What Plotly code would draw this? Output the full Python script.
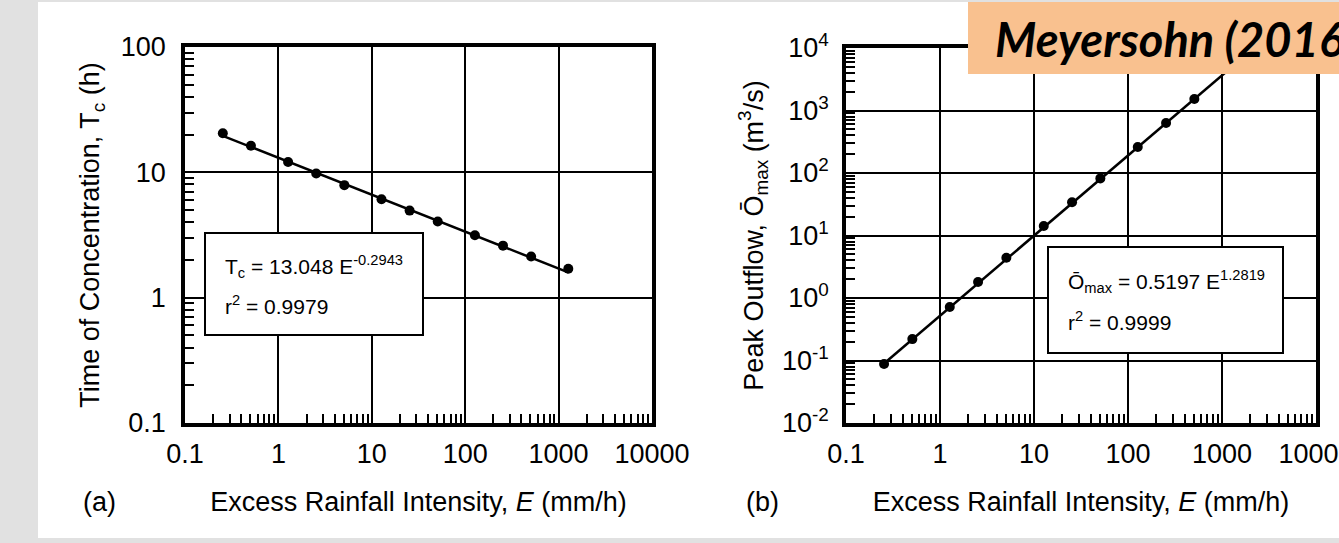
import plotly.graph_objects as go

# ---------------- data ----------------
E_a = [0.254, 0.508, 1.27, 2.54, 5.08, 12.7, 25.4, 50.8, 127, 254, 508, 1270]
Tc = [20.5, 16.3, 12.1, 9.8, 7.9, 6.1, 4.95, 4.05, 3.15, 2.6, 2.13, 1.7]

E_b = [0.254, 0.508, 1.27, 2.54, 5.08, 12.7, 25.4, 50.8, 127, 254, 508]
Omax = [0.088, 0.22, 0.72, 1.8, 4.4, 14.2, 34, 82, 260, 630, 1530]

fit_a = (13.048, -0.2943)   # Tc = a E^b
fit_b = (0.5197, 1.2819)    # Omax = a E^b
fit_b_end = 3000            # fit line drawn up to top of panel (clipped)

x_tickvals = [0.1, 1, 10, 100, 1000, 10000]
x_ticktext = ["0.1", "1", "10", "100", "1000", "10000"]
ya_tickvals = [0.1, 1, 10, 100]
ya_ticktext = ["0.1", "1", "10", "100"]
yb_tickvals = [0.01, 0.1, 1, 10, 100, 1000, 10000]
yb_ticktext = ["10<sup>-2</sup>", "10<sup>-1</sup>", "10<sup>0</sup>", "10<sup>1</sup>",
               "10<sup>2</sup>", "10<sup>3</sup>", "10<sup>4</sup>"]

# ---------------- layout helpers ----------------
W, H = 1339, 543
FONT = "Liberation Sans, Arial, sans-serif"


def px(p):
    return p / W


def py(p):
    return 1 - p / H


fig = go.Figure()

# fit lines
fa_x = [E_a[0], E_a[-1]]
fa_y = [fit_a[0] * e ** fit_a[1] for e in fa_x]
fb_x = [E_b[0], fit_b_end]
fb_y = [fit_b[0] * e ** fit_b[1] for e in fb_x]

fig.add_trace(go.Scatter(x=fa_x, y=fa_y, mode="lines", line=dict(color="black", width=2.5),
                         xaxis="x", yaxis="y", showlegend=False, hoverinfo="skip"))
fig.add_trace(go.Scatter(x=E_a, y=Tc, mode="markers", marker=dict(color="black", size=10),
                         xaxis="x", yaxis="y", showlegend=False, name="Tc"))
fig.add_trace(go.Scatter(x=fb_x, y=fb_y, mode="lines", line=dict(color="black", width=2.5),
                         xaxis="x2", yaxis="y2", showlegend=False, hoverinfo="skip"))
fig.add_trace(go.Scatter(x=E_b, y=Omax, mode="markers", marker=dict(color="black", size=10),
                         xaxis="x2", yaxis="y2", showlegend=False, name="Omax"))

common = dict(
    type="log", showline=True, linewidth=3.5, linecolor="black", mirror=True,
    showgrid=True, gridcolor="black", gridwidth=2, zeroline=False,
    ticks="inside", ticklen=10, tickwidth=2, tickcolor="black",
    tickfont=dict(size=27, color="black", family=FONT),
    minor=dict(ticks="inside", ticklen=9, tickwidth=1.5, tickcolor="black",
               dtick="D1", showgrid=False),
    tickmode="array",
    automargin=False,
    ticklabeloverflow="allow",
)

xtitle = "Excess Rainfall Intensity, <i>E</i> (mm/h)"

fig.update_layout(
    width=W, height=H,
    margin=dict(l=0, r=0, t=0, b=0, pad=0),
    paper_bgcolor="#e1e1e1",
    plot_bgcolor="white",
    font=dict(family=FONT, color="black", size=27),
    xaxis=dict(common, domain=[px(185), px(652)], range=[-1, 4], anchor="y",
               tickvals=x_tickvals, ticktext=x_ticktext, ticklabelstandoff=4,
               title=dict(text=xtitle, standoff=25, font=dict(size=27))),
    yaxis=dict(common, domain=[py(423), py(47)], range=[-1, 2], anchor="x",
               tickvals=ya_tickvals, ticktext=ya_ticktext, ticklabelstandoff=10,
               title=dict(text="Time of Concentration, T<sub>c</sub> (h)", standoff=14,
                          font=dict(size=27))),
    xaxis2=dict(common, domain=[px(846), px(1316)], range=[-1, 4], anchor="y2",
                tickvals=x_tickvals, ticktext=x_ticktext, ticklabelstandoff=4,
                title=dict(text=xtitle, standoff=25, font=dict(size=27))),
    yaxis2=dict(common, domain=[py(423), py(48)], range=[-2, 4], anchor="x2",
                tickvals=yb_tickvals, ticktext=yb_ticktext, ticklabelstandoff=8,
                title=dict(text="Peak Outflow, Ō<sub>max</sub> (m<sup>3</sup>/s)", standoff=12,
                           font=dict(size=27))),
)

shapes = [
    # white sheet
    dict(type="rect", xref="paper", yref="paper", x0=px(38), x1=1.0, y0=py(538), y1=py(2),
         fillcolor="white", line=dict(width=0), layer="below"),
    # equation boxes
    dict(type="rect", xref="paper", yref="paper", x0=px(205), x1=px(423), y0=py(335), y1=py(233),
         fillcolor="white", line=dict(color="black", width=2)),
    dict(type="rect", xref="paper", yref="paper", x0=px(1048), x1=px(1283), y0=py(353), y1=py(247),
         fillcolor="white", line=dict(color="black", width=2)),
    # title box
    dict(type="rect", xref="paper", yref="paper", x0=px(968), x1=1.0, y0=py(74), y1=py(2),
         fillcolor="#F9C18F", line=dict(width=0)),
]
fig.update_layout(shapes=shapes)

ann = []


def note(text, x, y, size, xanchor="left", family=FONT):
    ann.append(dict(text=text, x=px(x), y=py(y), xref="paper", yref="paper",
                    xanchor=xanchor, yanchor="middle", showarrow=False,
                    font=dict(size=size, color="black", family=family)))


note("T<sub>c</sub> = 13.048 E<sup>-0.2943</sup>", 223, 266, 21)
note("r<sup>2</sup> = 0.9979", 223, 305, 21)
note("Ō<sub>max</sub> = 0.5197 E<sup>1.2819</sup>", 1066, 281, 21)
note("r<sup>2</sup> = 0.9999", 1066, 321, 21)
note("(a)", 99, 502, 27, xanchor="center")
note("(b)", 762, 502, 27, xanchor="center")
note("<b><i>Meyersohn (2016)</i></b>", 993, 39, 47, family="Lato, Open Sans, sans-serif")
fig.update_layout(annotations=ann)

fig.write_html("out.html", config={"displayModeBar": False},
               post_script="document.body.style.margin='0';")
